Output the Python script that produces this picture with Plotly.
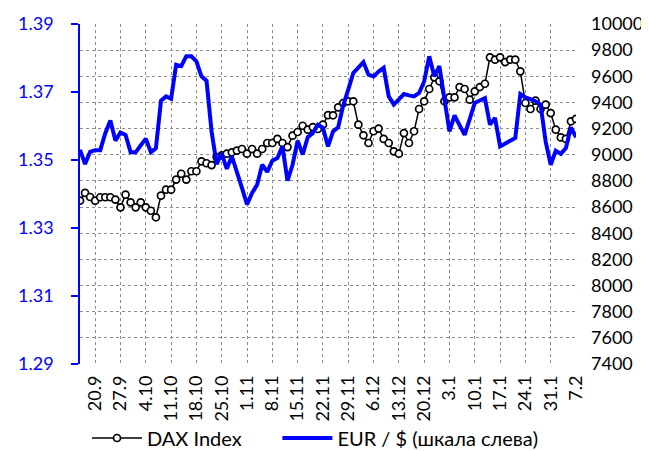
import plotly.graph_objects as go

# Tick labels (every 5th trading day, Fridays)
date_labels = ["20.9", "27.9", "4.10", "11.10", "18.10", "25.10", "1.11", "8.11",
               "15.11", "22.11", "29.11", "6.12", "13.12", "20.12", "3.1", "10.1",
               "17.1", "24.1", "31.1", "7.2"]
label_positions = [3, 8, 13, 18, 23, 28, 33, 38, 43, 48, 53, 58, 63, 68, 73, 78, 83, 88, 93, 98]

eur_ticks = [1.29, 1.31, 1.33, 1.35, 1.37, 1.39]
dax_ticks = [7400, 7600, 7800, 8000, 8200, 8400, 8600, 8800, 9000, 9200, 9400,
             9600, 9800, 10000]

# DAX Index (right axis), one value per trading day
dax = [8649, 8708, 8677, 8649, 8675, 8675, 8675, 8657, 8598, 8695,
       8636, 8598, 8636, 8598, 8572, 8522, 8687, 8733, 8733, 8810,
       8855, 8810, 8874, 8874, 8950, 8935, 8921, 8983, 8995, 9008,
       9019, 9032, 9044, 9008, 9044, 9008, 9044, 9090, 9090, 9121,
       9090, 9059, 9146, 9174, 9222, 9192, 9212, 9197, 9230, 9303,
       9302, 9363, 9396, 9409, 9409, 9230, 9149, 9090, 9180, 9200,
       9121, 9090, 9026, 9008, 9166, 9090, 9180, 9350, 9409, 9503,
       9592, 9562, 9409, 9439, 9439, 9518, 9503, 9421, 9485, 9518,
       9543, 9745, 9727, 9745, 9709, 9727, 9727, 9638, 9396, 9350,
       9414, 9350, 9383, 9319, 9192, 9133, 9121, 9256, 9274]

# EUR / USD (left axis)
eur = [1.3530, 1.3488, 1.3524, 1.3529, 1.3529, 1.3579, 1.3616, 1.3557, 1.3581, 1.3574,
       1.3523, 1.3523, 1.3543, 1.3563, 1.3523, 1.3535, 1.3674, 1.3687, 1.3680, 1.3780,
       1.3776, 1.3805, 1.3805, 1.3790, 1.3746, 1.3733, 1.3584, 1.3488, 1.3519, 1.3474,
       1.3511, 1.3460, 1.3418, 1.3369, 1.3403, 1.3427, 1.3486, 1.3465, 1.3498, 1.3506,
       1.3540, 1.3439, 1.3486, 1.3557, 1.3516, 1.3567, 1.3579, 1.3604, 1.3595, 1.3540,
       1.3584, 1.3596, 1.3660, 1.3707, 1.3756, 1.3772, 1.3788, 1.3751, 1.3746, 1.3760,
       1.3771, 1.3687, 1.3663, 1.3678, 1.3694, 1.3690, 1.3687, 1.3697, 1.3731, 1.3805,
       1.3746, 1.3776, 1.3680, 1.3584, 1.3631, 1.3604, 1.3574, 1.3620, 1.3668, 1.3675,
       1.3682, 1.3604, 1.3624, 1.3540, 1.3548, 1.3556, 1.3565, 1.3694, 1.3684, 1.3679,
       1.3673, 1.3663, 1.3555, 1.3486, 1.3527, 1.3518, 1.3535, 1.3596, 1.3567]

series_names = ["DAX Index", "EUR / $ (шкала слева)"]

idx = list(range(len(dax)))

FONT = "Lato, 'Open Sans', sans-serif"
BLUE = "#0000FF"
GRID = "#8c8c8c"
NBSP = "\u00a0"

fig = go.Figure()
fig.add_trace(go.Scatter(
    x=idx, y=dax, name=series_names[0] + NBSP * 6, mode="lines+markers", yaxis="y",
    line=dict(color="black", width=1.5),
    marker=dict(symbol="circle", size=7, color="white",
                line=dict(color="black", width=1.7)),
))
fig.add_trace(go.Scatter(
    x=idx, y=eur, name=series_names[1], mode="lines", yaxis="y2",
    line=dict(color=BLUE, width=4),
))

PLOT_L, PLOT_W, PLOT_B, PLOT_H = 72, 496, 356, 340
LEG_Y = (PLOT_B - 430) / PLOT_H

fig.update_layout(
    width=649, height=451,
    margin=dict(l=72, r=81, t=16, b=95, autoexpand=False),
    paper_bgcolor="white", plot_bgcolor="white",
    font=dict(family=FONT, size=18, color="black"),
    xaxis=dict(range=[0, 98], tickmode="array", tickvals=label_positions,
               ticktext=date_labels, tickangle=-90, showgrid=True,
               gridcolor=GRID, griddash="3px,3px", gridwidth=1,
               showline=False, zeroline=False, ticks="",
               ticklabelstandoff=7, automargin=False),
    yaxis=dict(range=[7400, 10000], tickmode="array", tickvals=dax_ticks,
               side="right", showgrid=True,
               gridcolor=GRID, griddash="3px,3px", gridwidth=1,
               zeroline=False, showline=False, ticks="",
               ticklabelstandoff=14, tickformat="d", automargin=False),
    yaxis2=dict(range=[1.29, 1.39], tickmode="array", tickvals=eur_ticks,
                overlaying="y", side="left",
                showgrid=False, zeroline=False, showline=True,
                linecolor=BLUE, linewidth=1.5, ticks="outside",
                tickcolor=BLUE, ticklen=7, tickwidth=1.5,
                tickfont=dict(color=BLUE), tickformat=".2f",
                ticklabelstandoff=14, automargin=False),
    legend=dict(orientation="h", x=(79 - PLOT_L) / PLOT_W, y=LEG_Y,
                xanchor="left", yanchor="middle", itemwidth=50,
                bgcolor="rgba(0,0,0,0)", font=dict(size=20), borderwidth=0),
)

fig.write_html("out.html")
